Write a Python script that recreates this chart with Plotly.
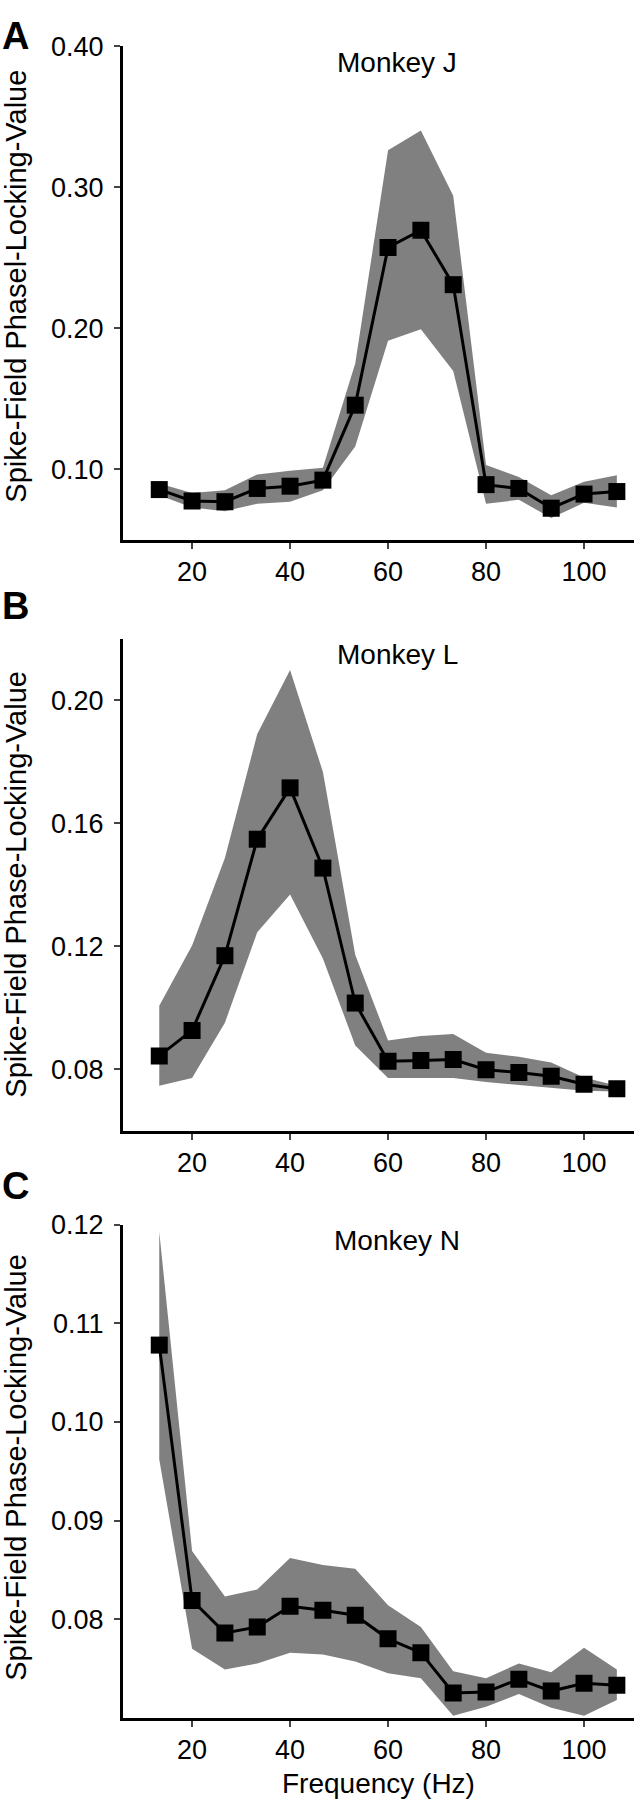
import plotly.graph_objects as go

freq = [13.3, 20.0, 26.7, 33.3, 40.0, 46.7, 53.3, 60.0, 66.7, 73.3, 80.0, 86.7, 93.3, 100.0, 106.7]

j_mean = [0.0855, 0.0774, 0.0769, 0.0863, 0.0879, 0.0922, 0.1454, 0.2573, 0.2696, 0.2309, 0.0890, 0.0863, 0.0723, 0.0823, 0.0841]
j_upper = [0.0898, 0.0830, 0.0850, 0.0962, 0.0989, 0.1010, 0.1750, 0.3263, 0.3403, 0.2940, 0.1030, 0.0944, 0.0815, 0.0911, 0.0957]
j_lower = [0.0815, 0.0728, 0.0702, 0.0755, 0.0769, 0.0850, 0.1160, 0.1911, 0.1992, 0.1696, 0.0755, 0.0782, 0.0653, 0.0761, 0.0728]

l_mean = [0.0843, 0.0926, 0.1169, 0.1548, 0.1715, 0.1454, 0.1015, 0.0826, 0.0828, 0.0831, 0.0798, 0.0789, 0.0777, 0.0751, 0.0736]
l_upper = [0.1006, 0.1202, 0.1487, 0.1890, 0.2098, 0.1767, 0.1172, 0.0893, 0.0908, 0.0914, 0.0853, 0.0840, 0.0822, 0.0773, 0.0746]
l_lower = [0.0746, 0.0771, 0.0951, 0.1245, 0.1368, 0.1160, 0.0877, 0.0771, 0.0771, 0.0771, 0.0758, 0.0748, 0.0739, 0.0730, 0.0727]

n_mean = [0.1078, 0.0819, 0.0786, 0.0792, 0.0813, 0.0809, 0.0804, 0.0780, 0.0766, 0.0725, 0.0726, 0.0739, 0.0727, 0.0735, 0.0733]
n_upper = [0.1193, 0.0869, 0.0823, 0.0830, 0.0862, 0.0855, 0.0851, 0.0814, 0.0792, 0.0747, 0.0740, 0.0755, 0.0746, 0.0771, 0.0749]
n_lower = [0.0962, 0.0770, 0.0749, 0.0755, 0.0766, 0.0764, 0.0757, 0.0745, 0.0740, 0.0702, 0.0711, 0.0724, 0.0710, 0.0702, 0.0718]

x_ticks = [20, 40, 60, 80, 100]
j_ticks = [0.10, 0.20, 0.30, 0.40]
l_ticks = [0.08, 0.12, 0.16, 0.20]
n_ticks = [0.08, 0.09, 0.10, 0.11, 0.12]

panels = [
    dict(letter="A", name="Monkey J", mean=j_mean, up=j_upper, lo=j_lower, ticks=j_ticks,
         yr=[0.05, 0.40], top=31.7, bot=529, ytitle="Spike-Field Phasel-Locking-Value", ytc=274,
         letter_y=21, name_y=48),
    dict(letter="B", name="Monkey L", mean=l_mean, up=l_upper, lo=l_lower, ticks=l_ticks,
         yr=[0.06, 0.22], top=629, bot=1125, ytitle="Spike-Field Phase-Locking-Value", ytc=877,
         letter_y=596, name_y=645),
    dict(letter="C", name="Monkey N", mean=n_mean, up=n_upper, lo=n_lower, ticks=n_ticks,
         yr=[0.07, 0.12], top=1220, bot=1717, ytitle="Spike-Field Phase-Locking-Value", ytc=1465,
         letter_y=1181, name_y=1236),
]

W, H = 635, 1800
FONT = "Liberation Sans, Arial, sans-serif"
GRAY = "#808080"

fig = go.Figure()
annotations = []
for i, p in enumerate(panels):
    k = "" if i == 0 else str(i + 1)
    xa, ya = "x" + k, "y" + k
    fig.add_trace(go.Scatter(
        x=freq + freq[::-1], y=p["up"] + p["lo"][::-1],
        fill="toself", fillcolor=GRAY, line=dict(width=0), mode="lines",
        hoverinfo="skip", showlegend=False, xaxis=xa, yaxis=ya))
    fig.add_trace(go.Scatter(
        x=freq, y=p["mean"], mode="lines+markers",
        line=dict(color="black", width=3),
        marker=dict(symbol="square", size=17, color="black"),
        showlegend=False, xaxis=xa, yaxis=ya))
    dom_y = [1 - p["bot"] / H, 1 - p["top"] / H]
    fig.update_layout(**{
        "xaxis" + k: dict(domain=[123 / W, 634 / W], range=[5.9, 110.2], anchor=ya,
                          tickvals=x_ticks, ticks="outside", ticklen=6, tickwidth=2,
                          showline=True, linewidth=3, linecolor="black", showgrid=False,
                          zeroline=False, tickfont=dict(size=27, color="black", family=FONT),
                          ticklabelstandoff=0),
        "yaxis" + k: dict(domain=dom_y, range=p["yr"], anchor=xa,
                          tickvals=p["ticks"], tickformat=".2f", ticks="outside", ticklen=6,
                          tickwidth=2, showline=True, linewidth=3, linecolor="black",
                          showgrid=False, zeroline=False,
                          tickfont=dict(size=27, color="black", family=FONT),
                          ticklabelstandoff=5),
    })
    annotations.append(dict(text=p["letter"], x=0 / W, y=1 - p["letter_y"] / H, xref="paper",
                            yref="paper", xanchor="left", yanchor="middle", showarrow=False,
                            font=dict(size=38, color="black", family=FONT, weight="bold")))
    annotations.append(dict(text=p["name"], x=397 / W, y=1 - p["name_y"] / H, xref="paper",
                            yref="paper", xanchor="center", yanchor="middle", showarrow=False,
                            font=dict(size=28, color="black", family=FONT)))
    annotations.append(dict(text=p["ytitle"], x=16 / W, y=1 - p["ytc"] / H, xref="paper",
                            yref="paper", xanchor="center", yanchor="middle", showarrow=False,
                            textangle=-90, font=dict(size=29, color="black", family=FONT)))

annotations.append(dict(text="Frequency (Hz)", x=378 / W, y=1 - 1783 / H, xref="paper",
                        yref="paper", xanchor="center", yanchor="middle", showarrow=False,
                        font=dict(size=28, color="black", family=FONT)))

fig.update_layout(width=W, height=H, margin=dict(l=0, r=0, t=0, b=0),
                  paper_bgcolor="white", plot_bgcolor="white",
                  annotations=annotations, font=dict(family=FONT, color="black"))

fig.write_html("out.html", config={"displayModeBar": False},
               post_script="document.body.style.margin='0';")
